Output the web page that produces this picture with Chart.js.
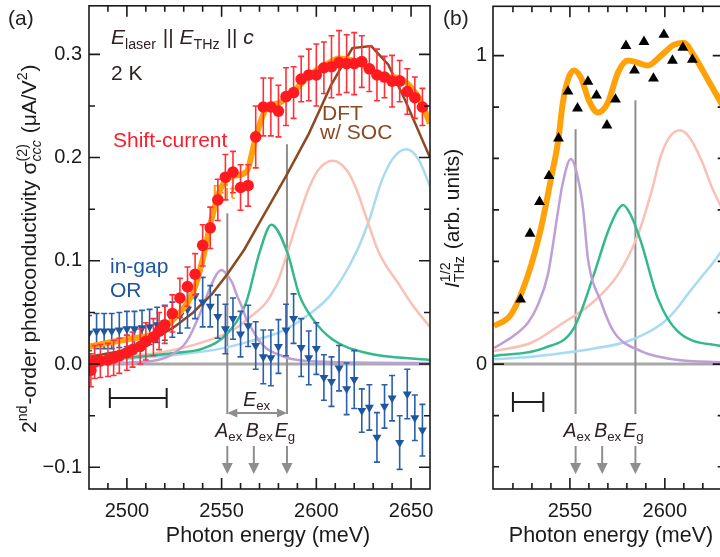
<!DOCTYPE html>
<html>
<head>
<meta charset="utf-8">
<script src="https://cdn.jsdelivr.net/npm/chart.js@4.4.1/dist/chart.umd.min.js"></script>
<style>
  html, body { margin: 0; padding: 0; background: #fff; overflow: hidden; }
  #wrap { position: relative; width: 720px; height: 557px; overflow: hidden; }
  #chartA { position: absolute; left: 0; top: 0; }
  #chartB { position: absolute; left: 440px; top: 0; }
</style>
</head>
<body>
<div id="wrap">
  <canvas id="chartA" width="440" height="557"></canvas>
  <canvas id="chartB" width="290" height="557"></canvas>
</div>
<script>
// ---------- panel (a) data ----------
const shiftE = [2481, 2483, 2486, 2490, 2493, 2496, 2500, 2503, 2507, 2510, 2514, 2517, 2520, 2524, 2528, 2532, 2536, 2540, 2544,
  2548, 2552, 2556, 2560, 2564, 2568, 2572, 2576, 2580, 2584, 2588, 2592, 2596, 2600, 2604, 2608, 2612, 2616, 2620, 2624,
  2628, 2632, 2636, 2640, 2644, 2648, 2652, 2656];
const shiftV = [-0.006, 0.002, 0.003, 0.004, 0.006, 0.008, 0.011, 0.014, 0.017, 0.022, 0.026, 0.032, 0.038, 0.049, 0.064, 0.075, 0.087, 0.115, 0.132,
  0.159, 0.181, 0.186, 0.171, 0.173, 0.220, 0.249, 0.249, 0.245, 0.259, 0.263, 0.276, 0.280, 0.280, 0.287, 0.288, 0.292, 0.291, 0.291, 0.293,
  0.286, 0.280, 0.278, 0.274, 0.274, 0.264, 0.258, 0.249];
const shiftErr = [0.016, 0.016, 0.016, 0.016, 0.017, 0.017, 0.017, 0.017, 0.017, 0.018, 0.018, 0.018, 0.018, 0.018, 0.019, 0.019, 0.020, 0.020, 0.020,
  0.020, 0.022, 0.020, 0.022, 0.020, 0.030, 0.028, 0.028, 0.025, 0.028, 0.025, 0.022, 0.025, 0.030, 0.025, 0.030, 0.031, 0.028, 0.030, 0.025,
  0.022, 0.025, 0.020, 0.025, 0.020, 0.022, 0.020, 0.018];

const orE = [2480, 2484, 2488, 2492, 2496, 2500, 2504, 2508, 2512, 2516, 2520, 2524, 2528, 2532, 2536, 2540, 2544, 2548, 2552, 2556, 2560,
  2564, 2568, 2572, 2576, 2580, 2584, 2588, 2592, 2596, 2600, 2604, 2608, 2612, 2616, 2620, 2624, 2628, 2632, 2636, 2640, 2644, 2648, 2652, 2656];
const orV = [0.030, 0.032, 0.032, 0.032, 0.033, 0.034, 0.034, 0.035, 0.036, 0.038, 0.040, 0.043, 0.047, 0.053, 0.066, 0.060, 0.056, 0.046, 0.034, 0.044, 0.029,
  0.037, 0.018, 0.007, 0.006, 0.017, 0.033, 0.044, 0.016, 0.006, 0.015, -0.013, -0.017, -0.004, -0.024, -0.015, -0.045, -0.042, -0.071, -0.041, -0.033, -0.076, -0.029, -0.052, -0.064];
const orErr = [0.017, 0.017, 0.017, 0.017, 0.017, 0.017, 0.017, 0.017, 0.017, 0.017, 0.017, 0.017, 0.017, 0.018, 0.022, 0.024, 0.020, 0.021, 0.024, 0.020, 0.022,
  0.020, 0.023, 0.026, 0.027, 0.026, 0.025, 0.024, 0.028, 0.026, 0.025, 0.022, 0.024, 0.022, 0.025, 0.028, 0.021, 0.022, 0.024, 0.021, 0.022, 0.026, 0.024, 0.022, 0.025];

const fitAE = [2480, 2500, 2515, 2526, 2535, 2540, 2544, 2549, 2556, 2563, 2568.4, 2573.7, 2580.5, 2587, 2596, 2605, 2612, 2621, 2629.5, 2637, 2644, 2650.5, 2655, 2660];
const fitAV = [0.017, 0.024, 0.030, 0.046, 0.070, 0.101, 0.135, 0.168, 0.182, 0.186, 0.222, 0.248, 0.253, 0.262, 0.279, 0.290, 0.296, 0.293, 0.284, 0.278, 0.277, 0.267, 0.255, 0.233];

const dftE = [2480, 2495, 2505, 2515, 2525, 2535, 2545, 2553, 2562, 2570, 2584, 2596, 2608, 2619, 2629, 2638, 2647, 2660];
const dftV = [0.007, 0.012, 0.017, 0.025, 0.036, 0.050, 0.068, 0.087, 0.111, 0.137, 0.182, 0.223, 0.271, 0.306, 0.308, 0.290, 0.255, 0.200];

const purpleAE = [2480, 2508, 2522.6, 2531.6, 2538.4, 2543.7, 2547.4, 2550, 2553, 2555.8, 2558, 2561, 2563, 2566, 2570, 2573.7, 2579, 2587, 2608, 2660];
const purpleAV = [0.001, 0.002, 0.008, 0.022, 0.048, 0.073, 0.087, 0.091, 0.086, 0.078, 0.067, 0.054, 0.044, 0.034, 0.022, 0.015, 0.010, 0.005, 0.002, 0.001];
const greenAE = [2480, 2500, 2526.3, 2540, 2552.6, 2563, 2570, 2576.3, 2584.7, 2591, 2598, 2608.4, 2626, 2660];
const greenAV = [0.003, 0.006, 0.011, 0.015, 0.029, 0.060, 0.108, 0.135, 0.108, 0.067, 0.044, 0.024, 0.011, 0.004];
const pinkAE = [2480, 2500, 2517, 2538, 2556, 2566, 2573.7, 2580, 2584.7, 2591, 2596, 2601, 2608.5, 2616, 2621, 2626, 2633, 2643.7, 2652, 2660];
const pinkAV = [0.006, 0.008, 0.011, 0.020, 0.033, 0.047, 0.060, 0.082, 0.108, 0.144, 0.170, 0.188, 0.197, 0.188, 0.170, 0.144, 0.108, 0.077, 0.054, 0.036];
const skyAE = [2480, 2500, 2520, 2547, 2565, 2582, 2596, 2608, 2621, 2628, 2634, 2640, 2647.5, 2654, 2660];
const skyAV = [0.003, 0.005, 0.008, 0.014, 0.022, 0.032, 0.048, 0.068, 0.108, 0.140, 0.175, 0.198, 0.208, 0.198, 0.172];

// ---------- panel (b) data ----------
const thzE = [2524, 2529, 2534, 2539, 2544, 2549, 2554, 2559.5, 2564, 2569.5, 2574, 2579.5, 2584, 2589, 2594, 2599.5, 2604, 2609.5, 2614.5];
const thzV = [0.210, 0.423, 0.526, 0.610, 0.732, 0.884, 0.829, 0.916, 0.871, 0.774, 0.858, 1.032, 0.952, 1.045, 0.926, 1.068, 0.984, 1.026, 0.987];

const fitBE = [2510, 2519, 2528, 2534.7, 2540, 2543.7, 2546.3, 2549, 2552, 2555.8, 2560, 2564.7, 2570, 2575.3, 2580.5, 2585.8, 2591, 2598, 2604.7, 2610, 2615, 2622.6, 2629.5, 2632];
const fitBV = [0.123, 0.161, 0.290, 0.439, 0.600, 0.719, 0.848, 0.923, 0.952, 0.929, 0.855, 0.816, 0.848, 0.945, 0.984, 0.977, 0.968, 1.000, 1.035, 1.042, 1.003, 0.923, 0.848, 0.820];

const purpleBE = [2510, 2520, 2528, 2533, 2538.4, 2543.7, 2546, 2550.5, 2555, 2557, 2559.5, 2566.3, 2573, 2587.4, 2605, 2632];
const purpleBV = [0.052, 0.090, 0.135, 0.190, 0.290, 0.494, 0.580, 0.665, 0.580, 0.500, 0.342, 0.203, 0.106, 0.042, 0.015, 0.005];
const greenBE = [2510, 2536.3, 2552, 2562.6, 2570, 2575.3, 2578, 2582, 2587.4, 2596.3, 2606.8, 2632];
const greenBV = [0.026, 0.052, 0.116, 0.290, 0.429, 0.500, 0.516, 0.484, 0.397, 0.213, 0.106, 0.055];
const pinkBE = [2510, 2530, 2545.3, 2562.6, 2575.3, 2585.8, 2593, 2598, 2603, 2608, 2613, 2619, 2625, 2632];
const pinkBV = [0.042, 0.070, 0.129, 0.203, 0.290, 0.419, 0.560, 0.677, 0.740, 0.758, 0.735, 0.665, 0.570, 0.480];
const skyBE = [2510, 2530, 2545.3, 2562, 2580.5, 2598, 2605, 2612, 2619, 2625.8, 2632];
const skyBV = [0.016, 0.024, 0.035, 0.050, 0.074, 0.129, 0.170, 0.226, 0.280, 0.332, 0.385];

// ---------- ticks ----------
const aXMajor = [2500, 2550, 2600, 2650];
const aXMinor = [2490, 2510, 2520, 2530, 2540, 2560, 2570, 2580, 2590, 2610, 2620, 2630, 2640];
const aYMajor = [-0.1, 0, 0.1, 0.2, 0.3];
const aYMinor = [-0.05, 0.05, 0.15, 0.25];
const bXMajor = [2550, 2600];
const bXMinor = [2520, 2530, 2540, 2560, 2570, 2580, 2590, 2610, 2620, 2630];
const bYMajor = [0, 1];
const bYMinor = [-0.333, -0.167, 0.167, 0.333, 0.5, 0.667, 0.833];

// marked energies (meV)
const aExE = 2553, bExE = 2567, egE = 2584.5;

const FAM = '"Liberation Sans", Arial, Helvetica, sans-serif';
const INK = '#2e2222';
const GUIDE = '#8e8e8e';

function fnt(size, it) { return (it ? 'italic ' : '') + size + 'px ' + FAM; }
function pts(xs, ys) { return xs.map((x, i) => ({ x: x, y: ys[i] })); }

function segW(ctx, s, size) {
  if (s.t !== undefined) { ctx.font = fnt(size, s.it); return ctx.measureText(s.t).width; }
  const sm = size * 0.68;
  let w = 0;
  if (s.sup) { ctx.font = fnt(sm, s.supIt); w = Math.max(w, ctx.measureText(s.sup).width); }
  if (s.sub) { ctx.font = fnt(sm, s.subIt); w = Math.max(w, ctx.measureText(s.sub).width); }
  return w + 1;
}

function drawRich(ctx, segs, x, y, size, color, align) {
  const total = segs.reduce((a, s) => a + segW(ctx, s, size), 0);
  let cx = align === 'center' ? x - total / 2 : x;
  ctx.fillStyle = color;
  ctx.textAlign = 'left';
  ctx.textBaseline = 'alphabetic';
  segs.forEach(s => {
    const w = segW(ctx, s, size);
    if (s.t !== undefined) {
      ctx.font = fnt(size, s.it);
      ctx.fillText(s.t, cx, y);
    } else {
      const sm = size * 0.68;
      if (s.sup) { ctx.font = fnt(sm, s.supIt); ctx.fillText(s.sup, cx, y - size * 0.42); }
      if (s.sub) { ctx.font = fnt(sm, s.subIt); ctx.fillText(s.sub, cx, y + size * 0.22); }
    }
    cx += w;
  });
}

function head(ctx, x, y, dx, dy, len, half) {
  // filled arrow head, tip at (x, y), pointing along (dx, dy)
  const bx = x - dx * len, by = y - dy * len;
  ctx.beginPath();
  ctx.moveTo(x, y);
  ctx.lineTo(bx - dy * half, by + dx * half);
  ctx.lineTo(bx + dy * half, by - dx * half);
  ctx.closePath();
  ctx.fill();
}

const errorBars = {
  id: 'errorBars',
  beforeDatasetDraw(chart, args) {
    const ds = chart.data.datasets[args.index];
    if (!ds.errors) return;
    const { ctx, chartArea: ca, scales: { x, y } } = chart;
    ctx.save();
    ctx.beginPath();
    ctx.rect(ca.left, ca.top, ca.width, ca.height);
    ctx.clip();
    ctx.strokeStyle = ds.errorColor;
    ctx.lineWidth = 1.6;
    ds.data.forEach((p, i) => {
      const e = ds.errors[i];
      const px = x.getPixelForValue(p.x);
      const y1 = y.getPixelForValue(p.y + e);
      const y2 = y.getPixelForValue(p.y - e);
      ctx.beginPath();
      ctx.moveTo(px, y1); ctx.lineTo(px, y2);
      ctx.moveTo(px - 3, y1); ctx.lineTo(px + 3, y1);
      ctx.moveTo(px - 3, y2); ctx.lineTo(px + 3, y2);
      ctx.stroke();
    });
    ctx.restore();
  }
};

function framePlugin(xMaj, xMin, yMaj, yMin) {
  return {
    id: 'frame',
    afterDatasetsDraw(chart) {
      const { ctx, chartArea: ca, scales: { x, y } } = chart;
      ctx.save();
      ctx.strokeStyle = '#1a1a1a';
      ctx.lineWidth = 1.6;
      ctx.strokeRect(ca.left, ca.top, ca.width, ca.height);
      const tick = (vals, len, horiz) => vals.forEach(v => {
        ctx.beginPath();
        if (horiz) {
          const px = x.getPixelForValue(v);
          ctx.moveTo(px, ca.bottom); ctx.lineTo(px, ca.bottom - len);
          ctx.moveTo(px, ca.top); ctx.lineTo(px, ca.top + len);
        } else {
          const py = y.getPixelForValue(v);
          ctx.moveTo(ca.left, py); ctx.lineTo(ca.left + len, py);
          ctx.moveTo(ca.right, py); ctx.lineTo(ca.right - len, py);
        }
        ctx.stroke();
      });
      tick(xMaj, 11, true); tick(xMin, 6, true);
      tick(yMaj, 11, false); tick(yMin, 6, false);
      ctx.restore();
    }
  };
}

// zero line, guide lines, arrows, level labels, resolution bar
function guidePlugin(cfg) {
  return {
    id: 'guides',
    beforeDatasetsDraw(chart) {
      const { ctx, chartArea: ca, scales: { x, y } } = chart;
      ctx.save();
      ctx.strokeStyle = '#a9a9a9';
      ctx.lineWidth = 3;
      const y0 = y.getPixelForValue(0);
      ctx.beginPath(); ctx.moveTo(ca.left, y0); ctx.lineTo(ca.right, y0); ctx.stroke();
      ctx.strokeStyle = GUIDE;
      ctx.lineWidth = 2;
      cfg.guides.forEach(g => {
        const px = x.getPixelForValue(g.e);
        ctx.beginPath(); ctx.moveTo(px, y.getPixelForValue(g.top)); ctx.lineTo(px, 414); ctx.stroke();
      });
      if (cfg.behind) cfg.behind(ctx, chart);
      ctx.restore();
    },
    afterDatasetsDraw(chart) {
      const { ctx, scales: { x, y } } = chart;
      ctx.save();
      ctx.strokeStyle = GUIDE; ctx.fillStyle = GUIDE; ctx.lineWidth = 2;
      [aExE, bExE, egE].forEach(e => {
        const px = x.getPixelForValue(e);
        ctx.beginPath(); ctx.moveTo(px, 446); ctx.lineTo(px, 464); ctx.stroke();
        head(ctx, px, 474, 0, 1, 11, 5.5);
      });
      const labels = [
        { s: [{ t: 'A', it: true }, { sub: 'ex' }], e: aExE, dx: 2 },
        { s: [{ t: 'B', it: true }, { sub: 'ex' }], e: bExE, dx: 6 },
        { s: [{ t: 'E', it: true }, { sub: 'g' }], e: egE, dx: -1.5 }
      ];
      labels.forEach(l => drawRich(ctx, l.s, x.getPixelForValue(l.e) + l.dx, 437, 19.5, INK, 'center'));
      // resolution bar
      const bx1 = x.getPixelForValue(cfg.bar[0]), bx2 = x.getPixelForValue(cfg.bar[1]);
      ctx.strokeStyle = '#1e1e1e'; ctx.lineWidth = 2;
      ctx.beginPath();
      ctx.moveTo(bx1, cfg.barY); ctx.lineTo(bx2, cfg.barY);
      ctx.moveTo(bx1, cfg.barY - 10); ctx.lineTo(bx1, cfg.barY + 10);
      ctx.moveTo(bx2, cfg.barY - 10); ctx.lineTo(bx2, cfg.barY + 10);
      ctx.stroke();
      if (cfg.front) cfg.front(ctx, chart);
      ctx.restore();
    }
  };
}

function axisOpts(min, max, ticks, fmt, pad, fit) {
  return {
    type: 'linear', min: min, max: max,
    grid: { display: false, drawTicks: false },
    border: { display: false },
    afterBuildTicks: s => { s.ticks = ticks.map(v => ({ value: v })); },
    afterFit: s => { fit(s); s.paddingTop = 0; s.paddingBottom = 0; s.paddingLeft = 0; s.paddingRight = 0; },
    ticks: { autoSkip: false, maxRotation: 0, padding: pad, color: '#1a1a1a', font: { family: FAM, size: 20 }, callback: fmt }
  };
}

function line(data, color, width, order, smooth) {
  return {
    data: data, showLine: true, borderColor: color, borderWidth: width, pointRadius: 0,
    tension: 0, cubicInterpolationMode: smooth ? 'monotone' : 'default', order: order
  };
}

const fmtA = v => v === 0 ? '0.0' : (v < 0 ? '\u2212' : '') + Math.abs(v).toFixed(1);

new Chart(document.getElementById('chartA'), {
  type: 'scatter',
  data: {
    datasets: [
      {
        data: pts(shiftE, shiftV), pointStyle: 'circle', pointRadius: 5.8, pointBackgroundColor: '#ff1a1f',
        pointBorderWidth: 0, errors: shiftErr, errorColor: '#ff3038', order: 0
      },
      line(pts(fitAE, fitAV), '#ffa20a', 6, 1, true),
      {
        data: pts(orE, orV), pointStyle: 'triangle', pointRotation: 180, pointRadius: 5.2, pointBackgroundColor: '#1e56a0',
        pointBorderWidth: 0, errors: orErr, errorColor: '#2a5fab', order: 2
      },
      line(pts(dftE, dftV), '#8b4a22', 2.5, 3, false),
      line(pts(purpleAE, purpleAV), '#bf9fd6', 2.5, 4, true),
      line(pts(greenAE, greenAV), '#33b98a', 2.5, 5, true),
      line(pts(pinkAE, pinkAV), '#f9c0b3', 2.5, 6, true),
      line(pts(skyAE, skyAV), '#a8daf2', 2.5, 7, true)
    ]
  },
  options: {
    responsive: false, animation: false, events: [],
    layout: { padding: { left: 0, right: 10, top: 3, bottom: 0 } },
    plugins: { legend: { display: false }, tooltip: { enabled: false } },
    scales: {
      x: axisOpts(2480, 2660, aXMajor, v => String(v), 10, s => { s.height = 68; }),
      y: axisOpts(-0.121, 0.347, aYMajor, fmtA, 7, s => { s.width = 89; })
    }
  },
  plugins: [
    errorBars,
    guidePlugin({
      guides: [{ e: aExE, top: 0.146 }, { e: egE, top: 0.213 }],
      bar: [2491, 2521], barY: 398,
      behind: (ctx) => {
        ctx.fillStyle = '#ff9a1a';
        ctx.font = fnt(21, false);
        ctx.fillText('Fit', 212, 199);
      },
      front: (ctx, chart) => {
        const x = chart.scales.x;
        const a = x.getPixelForValue(aExE), g = x.getPixelForValue(egE);
        ctx.strokeStyle = GUIDE; ctx.fillStyle = GUIDE; ctx.lineWidth = 2;
        ctx.beginPath(); ctx.moveTo(a + 6, 413); ctx.lineTo(g - 6, 413); ctx.stroke();
        head(ctx, a, 413, -1, 0, 10, 4.5);
        head(ctx, g, 413, 1, 0, 10, 4.5);
        drawRich(ctx, [{ t: 'E', it: true }, { sub: 'ex' }], (a + g) / 2, 406, 19.5, INK, 'center');

        drawRich(ctx, [{ t: '(a)' }], 8, 25, 21, '#222', 'left');
        drawRich(ctx, [{ t: 'E', it: true }, { sub: 'laser' }, { t: ' || ' }, { t: 'E', it: true }, { sub: 'THz' }, { t: ' || ' }, { t: 'c', it: true }], 111, 44, 21, INK, 'left');
        drawRich(ctx, [{ t: '2 K' }], 111, 80, 21, INK, 'left');
        drawRich(ctx, [{ t: 'Shift-current' }], 113, 147, 21, '#ff1a2a', 'left');
        drawRich(ctx, [{ t: 'DFT' }], 322, 120, 21, '#8b4a22', 'left');
        drawRich(ctx, [{ t: 'w/ SOC' }], 320, 139, 21, '#8b4a22', 'left');
        drawRich(ctx, [{ t: 'in-gap' }], 110, 273, 21, '#1e56a0', 'left');
        drawRich(ctx, [{ t: 'OR' }], 110, 297, 21, '#1e56a0', 'left');

        drawRich(ctx, [{ t: 'Photon energy (meV)' }], 268, 542, 21.5, '#1a1a1a', 'center');
        ctx.save();
        ctx.translate(36, 433);
        ctx.rotate(-Math.PI / 2);
        drawRich(ctx, [{ t: '2' }, { sup: 'nd' }, { t: '-order photoconductivity \u03c3' }, { sup: '(2)', sub: 'ccc', subIt: true },
          { t: ' (\u03bcA/V' }, { sup: '2' }, { t: ')' }], 0, 0, 21, '#1a1a1a', 'left');
        ctx.restore();
      }
    }),
    framePlugin(aXMajor, aXMinor, aYMajor, aYMinor)
  ]
});

new Chart(document.getElementById('chartB'), {
  type: 'scatter',
  data: {
    datasets: [
      {
        data: pts(thzE, thzV), pointStyle: 'triangle', pointRadius: 6.3, pointBackgroundColor: '#000',
        pointBorderWidth: 0, order: 0
      },
      line(pts(fitBE, fitBV), '#ffa20a', 6, 1, true),
      line(pts(purpleBE, purpleBV), '#bf9fd6', 2.5, 4, true),
      line(pts(greenBE, greenBV), '#33b98a', 2.5, 5, true),
      line(pts(pinkBE, pinkBV), '#f9c0b3', 2.5, 6, true),
      line(pts(skyBE, skyBV), '#a8daf2', 2.5, 7, true)
    ]
  },
  options: {
    responsive: false, animation: false, events: [],
    layout: { padding: { left: 0, right: 6, top: 3, bottom: 0 } },
    plugins: { legend: { display: false }, tooltip: { enabled: false } },
    scales: {
      x: axisOpts(2509.5, 2631, bXMajor, v => String(v), 10, s => { s.height = 68; }),
      y: axisOpts(-0.405, 1.16, bYMajor, v => String(v), 6, s => { s.width = 53; })
    }
  },
  plugins: [
    guidePlugin({
      guides: [{ e: aExE, top: 0.761 }, { e: egE, top: 0.855 }],
      bar: [2520, 2536], barY: 402,
      front: (ctx) => {
        drawRich(ctx, [{ t: '(b)' }], 3, 25, 21, '#222', 'left');
        drawRich(ctx, [{ t: 'Photon energy (meV)' }], 171, 542, 21.5, '#1a1a1a', 'center');
        ctx.save();
        ctx.translate(19, 288);
        ctx.rotate(-Math.PI / 2);
        drawRich(ctx, [{ t: 'I', it: true }, { sup: '1/2', sub: 'THz' }, { t: ' (arb. units)' }], 0, 0, 21, '#1a1a1a', 'left');
        ctx.restore();
      }
    }),
    framePlugin(bXMajor, bXMinor, bYMajor, bYMinor)
  ]
});
</script>
</body>
</html>
